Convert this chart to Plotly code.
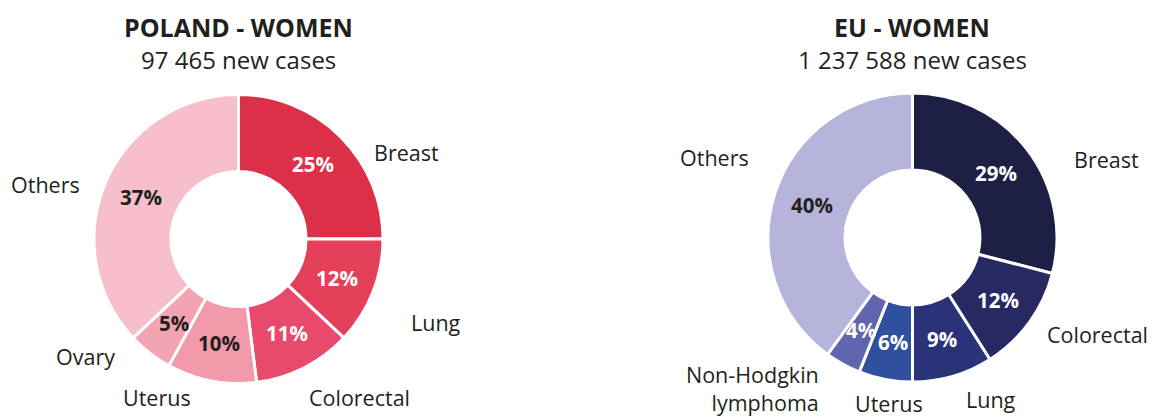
import math
import plotly.graph_objects as go

# ---------------- data ----------------
pl_title = "POLAND - WOMEN"
pl_subtitle = "97 465 new cases"
pl_labels = ["Breast", "Lung", "Colorectal", "Uterus", "Ovary", "Others"]
pl_values = [25, 12, 11, 10, 5, 37]

eu_title = "EU - WOMEN"
eu_subtitle = "1 237 588 new cases"
eu_labels = ["Breast", "Colorectal", "Lung", "Uterus", "Non-Hodgkin<br>lymphoma", "Others"]
eu_values = [29, 12, 9, 6, 4, 40]

# ---------------- style / layout ----------------
W, H = 1155, 419
FONT = "Open Sans"
TXT = "#231f20"
HOLE = 0.467

pl_colors = ["#dc2f48", "#e5405a", "#e84a6b", "#f299aa", "#f2a4b3", "#f7bfcb"]
pl_pct_colors = ["white", "white", "white", TXT, TXT, TXT]
eu_colors = ["#1e1f45", "#272a62", "#2a3278", "#2f4f9f", "#5f66ae", "#b6b4da"]
eu_pct_colors = ["white", "white", "white", "white", "white", TXT]

# pie centre (px) and outer radius (px)
pl_center, pl_r = (238.5, 239.0), 144.5
eu_center, eu_r = (912.5, 237.5), 144.5

# outside label anchor positions (px), with anchor settings
pl_label_pos = [(406, 153, "center"), (436, 322, "center"), (359, 397, "center"),
                (157, 397, "center"), (85, 356, "center"), (45, 184, "center")]
eu_label_pos = [(1106, 160, "center"), (1097, 334, "center"), (991, 399, "center"),
                (889, 403, "center"), (821, 388, "right"), (714, 157, "center")]


def dom(center, r):
    cx, cy = center
    return dict(x=[(cx - r) / W, (cx + r) / W], y=[1 - (cy + r) / H, 1 - (cy - r) / H])


def pct_annotations(values, colors, center, r):
    total = sum(values)
    cx, cy = center
    rm = r * (1 + HOLE) / 2
    out = []
    cum = 0
    for v, c in zip(values, colors):
        mid = (cum + v / 2) / total * 2 * math.pi
        cum += v
        x = cx + rm * math.sin(mid)
        y = cy - rm * math.cos(mid)
        out.append(dict(x=x / W, y=1 - y / H, xref="paper", yref="paper",
                        xanchor="center", yanchor="middle",
                        text=f"<b>{round(100 * v / total)}%</b>", showarrow=False,
                        font=dict(family=FONT, size=20.5, color=c)))
    return out


def label_annotations(labels, pos):
    out = []
    for lab, (x, y, anc) in zip(labels, pos):
        out.append(dict(x=x / W, y=1 - y / H, xref="paper", yref="paper",
                        text=lab, showarrow=False, xanchor=anc, yanchor="middle", align=anc,
                        font=dict(family=FONT, size=21.5, color=TXT)))
    return out


fig = go.Figure()
for labels, values, colors, center, r in [
        (pl_labels, pl_values, pl_colors, pl_center, pl_r),
        (eu_labels, eu_values, eu_colors, eu_center, eu_r)]:
    fig.add_trace(go.Pie(
        labels=labels, values=values, hole=HOLE, sort=False, direction="clockwise",
        rotation=0, textinfo="none", hoverinfo="label+percent",
        marker=dict(colors=colors, line=dict(color="white", width=3)),
        domain=dom(center, r), showlegend=False))

annotations = []
for title, sub, cx in [(pl_title, pl_subtitle, pl_center[0]), (eu_title, eu_subtitle, eu_center[0])]:
    annotations.append(dict(x=cx / W, y=1 - 27 / H, xref="paper", yref="paper", showarrow=False,
                            xanchor="center", yanchor="middle",
                            text=f"<b>{title}</b>", font=dict(family=FONT, size=25, color=TXT)))
    annotations.append(dict(x=cx / W, y=1 - 60 / H, xref="paper", yref="paper", showarrow=False,
                            xanchor="center", yanchor="middle",
                            text=sub, font=dict(family=FONT, size=24, color=TXT)))
annotations += pct_annotations(pl_values, pl_pct_colors, pl_center, pl_r)
annotations += pct_annotations(eu_values, eu_pct_colors, eu_center, eu_r)
annotations += label_annotations(pl_labels, pl_label_pos)
annotations += label_annotations(eu_labels, eu_label_pos)

fig.update_layout(width=W, height=H, margin=dict(l=0, r=0, t=0, b=0),
                  paper_bgcolor="white", plot_bgcolor="white",
                  font=dict(family=FONT, color=TXT), annotations=annotations)

fig.write_html("out.html", config={"displayModeBar": False},
               post_script="document.body.style.margin='0';")
